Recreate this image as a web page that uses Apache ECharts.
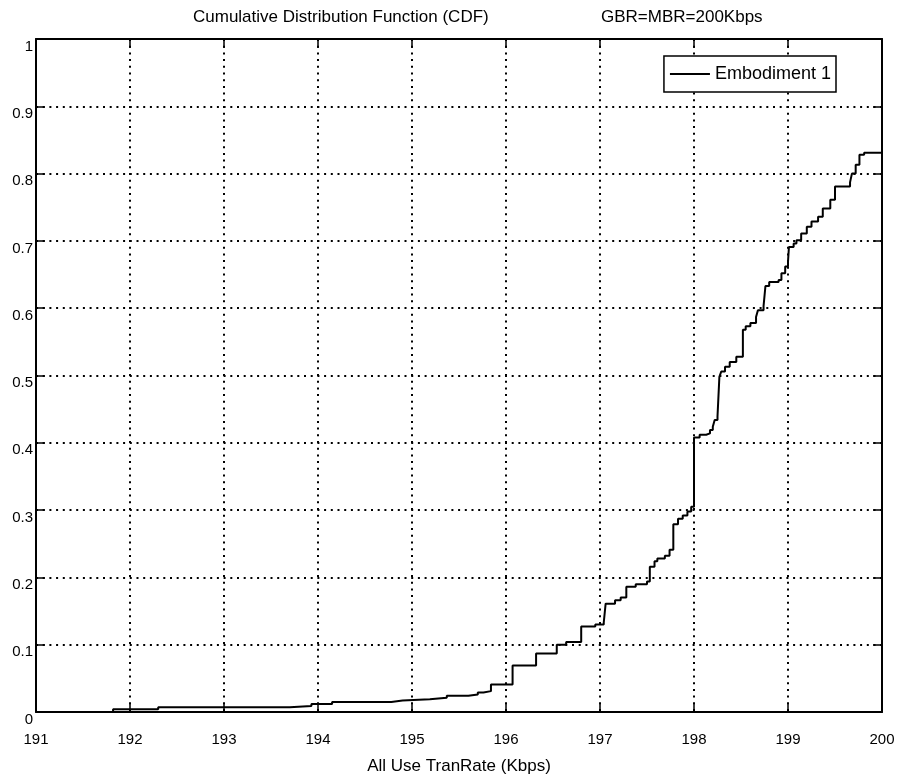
<!DOCTYPE html>
<html>
<head>
<meta charset="utf-8">
<script src="https://cdn.jsdelivr.net/npm/echarts@6/dist/echarts.min.js"></script>
<style>
  html, body { margin: 0; padding: 0; background: #fff; }
  #chart { width: 909px; height: 780px; }
</style>
</head>
<body>
<div id="chart"></div>
<script>
// 横轴刻度 / 纵轴刻度
var xTicks = [191, 192, 193, 194, 195, 196, 197, 198, 199, 200];
var yTicks = [0, 0.1, 0.2, 0.3, 0.4, 0.5, 0.6, 0.7, 0.8, 0.9, 1];
// CDF 阶梯点: 速率 (Kbps) 和 累积概率
var rate = [191, 191.82, 192.3, 193.7, 193.93, 194.15, 194.78, 194.9, 195.19, 195.37,
    195.6, 195.7, 195.76, 195.84, 196.07, 196.32, 196.54, 196.64, 196.8, 196.95,
    197.04, 197.06, 197.16, 197.22, 197.28, 197.38, 197.5, 197.53, 197.58, 197.61,
    197.69, 197.74, 197.78, 197.83, 197.88, 197.93, 197.97, 198.0, 198.06, 198.13,
    198.17, 198.2, 198.22, 198.25, 198.27, 198.29, 198.33, 198.38, 198.45, 198.52,
    198.55, 198.6, 198.66, 198.68, 198.74, 198.76, 198.8, 198.9, 198.93, 198.97,
    199.0, 199.01, 199.06, 199.09, 199.14, 199.2, 199.25, 199.32, 199.37, 199.45,
    199.5, 199.66, 199.68, 199.72, 199.76, 199.81, 200];
var cdf = [0, 0.004, 0.007, 0.009, 0.012, 0.015, 0.017, 0.019, 0.021, 0.024,
    0.026, 0.029, 0.031, 0.041, 0.069, 0.087, 0.100, 0.104, 0.127, 0.130,
    0.133, 0.161, 0.166, 0.170, 0.186, 0.190, 0.194, 0.216, 0.224, 0.228,
    0.232, 0.241, 0.279, 0.287, 0.292, 0.298, 0.305, 0.408, 0.412, 0.414,
    0.419, 0.424, 0.434, 0.439, 0.498, 0.506, 0.513, 0.520, 0.528, 0.568,
    0.573, 0.578, 0.587, 0.597, 0.603, 0.633, 0.639, 0.642, 0.652, 0.662,
    0.669, 0.691, 0.696, 0.701, 0.711, 0.721, 0.729, 0.736, 0.748, 0.761,
    0.781, 0.787, 0.800, 0.813, 0.828, 0.831, 0.831];
var seriesName = 'Embodiment 1';
var titleText = 'Cumulative Distribution Function (CDF)';
var subText = 'GBR=MBR=200Kbps';
var xName = 'All Use TranRate (Kbps)';

var points = [];
for (var i = 0; i < rate.length; i++) {
    points.push([rate[i], cdf[i]]);
}

var font = "'Liberation Sans', Arial, sans-serif";
/*虚线网格*/
var dotGrid = { show: true, lineStyle: { color: '#000', width: 2, type: [2, 4.7] } };
var frameLine = { show: true, onZero: false, lineStyle: { color: '#000', width: 2 } };
var innerTick = { show: true, inside: true, length: 9, lineStyle: { color: '#000', width: 1.5 } };
var bigText = { fontFamily: font, fontSize: 17, fontWeight: 'normal', color: '#000' };

var chart = echarts.init(document.getElementById('chart'));
chart.setOption({
    backgroundColor: '#fff',
    animation: false,
    title: [
        { text: titleText, left: 188, top: 4, textStyle: bigText },
        { text: subText, left: 596, top: 4, textStyle: bigText }
    ],
    grid: { left: 36, right: 27, top: 39, bottom: 68, containLabel: false, outerBoundsMode: 'none' },
    legend: {
        data: [{ name: seriesName, icon: 'rect' }],
        right: 73, top: 56,
        backgroundColor: '#fff',
        borderColor: '#000', borderWidth: 1.5, borderRadius: 0,
        padding: [8, 5, 8, 6],
        itemWidth: 40, itemHeight: 2,
        textStyle: { fontFamily: font, fontSize: 18, color: '#000', lineHeight: 20 }
    },
    xAxis: [{
        type: 'value', min: xTicks[0], max: xTicks[xTicks.length - 1], interval: 1,
        position: 'bottom',
        name: xName, nameLocation: 'middle', nameGap: 46,
        nameTextStyle: bigText,
        axisLine: frameLine, axisTick: innerTick,
        axisLabel: { margin: 20, fontFamily: font, fontSize: 15, color: '#000' },
        splitLine: dotGrid
    }, {
        type: 'value', min: xTicks[0], max: xTicks[xTicks.length - 1], interval: 1,
        position: 'top',
        axisLine: frameLine, axisTick: innerTick,
        axisLabel: { show: false }, splitLine: { show: false }
    }],
    yAxis: [{
        type: 'value', min: yTicks[0], max: yTicks[yTicks.length - 1], interval: 0.1,
        position: 'left',
        axisLine: frameLine, axisTick: innerTick,
        axisLabel: {
            margin: 3, verticalAlign: 'top', fontFamily: font, fontSize: 15, color: '#000',
            formatter: function (v) { return String(Math.round(v * 10) / 10); }
        },
        splitLine: dotGrid
    }, {
        type: 'value', min: yTicks[0], max: yTicks[yTicks.length - 1], interval: 0.1,
        position: 'right',
        axisLine: frameLine, axisTick: innerTick,
        axisLabel: { show: false }, splitLine: { show: false }
    }],
    series: [{
        name: seriesName,
        type: 'line',
        step: 'end',
        data: points,
        symbol: 'none',
        color: '#000',
        lineStyle: { color: '#000', width: 2 }
    }]
});
</script>
</body>
</html>
